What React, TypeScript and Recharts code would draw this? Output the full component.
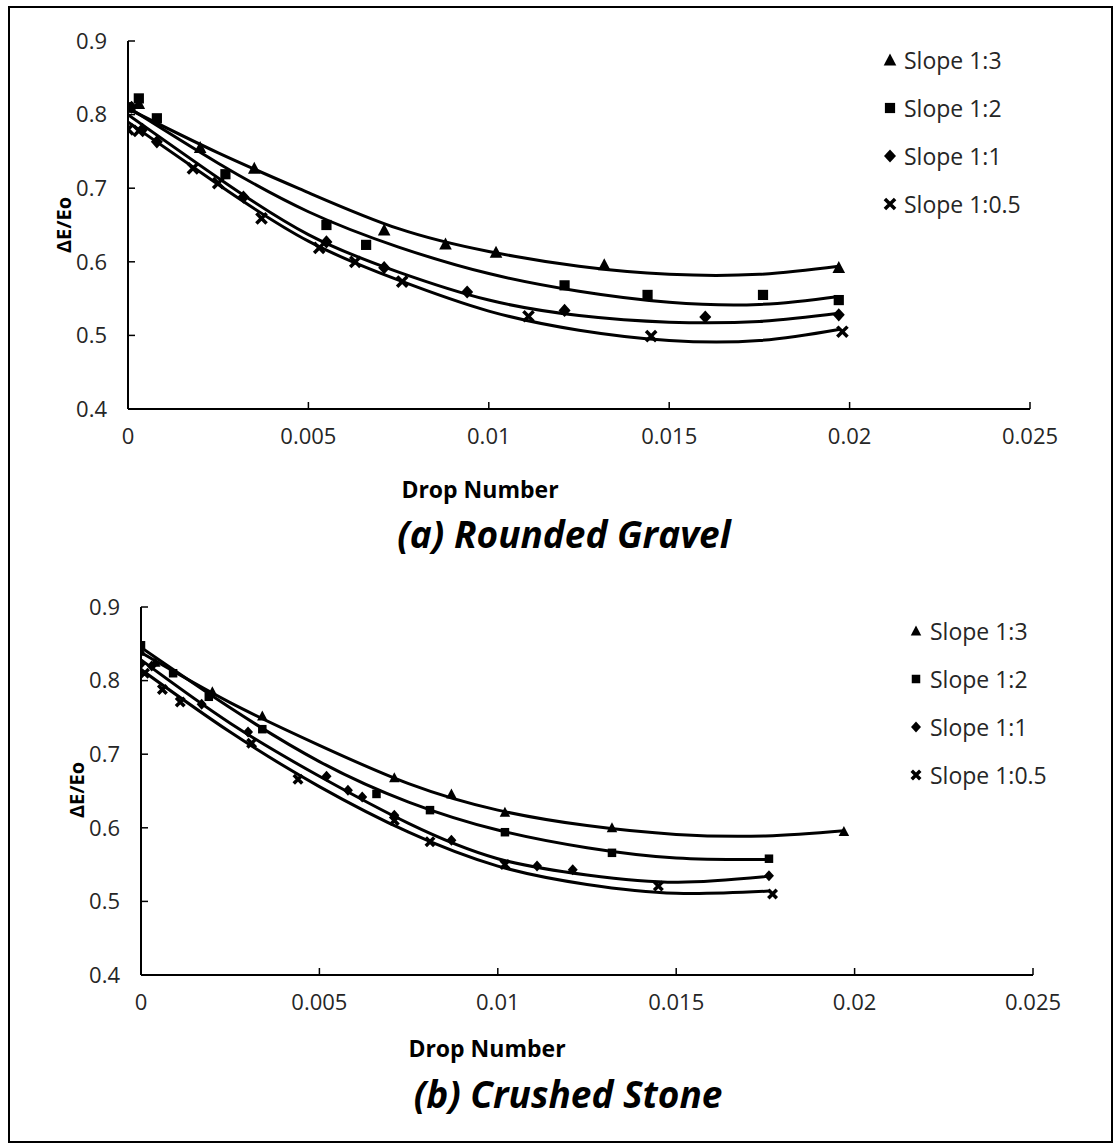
import { ComposedChart, Scatter, Line, XAxis, YAxis, Legend } from 'recharts'

const slopes = ['Slope 1:3', 'Slope 1:2', 'Slope 1:1', 'Slope 1:0.5']
const markers = ['triangle', 'square', 'diamond', 'x']
const xTicks = [0, 0.005, 0.01, 0.015, 0.02, 0.025]
const yTicks = [0.4, 0.5, 0.6, 0.7, 0.8, 0.9]

// (a) Rounded Gravel - measured points [drop number, dE/Eo]
const gravel13 = [[0, 0.81], [0.0003, 0.815], [0.002, 0.755], [0.0035, 0.727], [0.0071, 0.643], [0.0088, 0.624], [0.0102, 0.613], [0.0132, 0.596], [0.0197, 0.592]]
const gravel12 = [[0, 0.81], [0.0003, 0.822], [0.0008, 0.795], [0.0027, 0.719], [0.0055, 0.65], [0.0066, 0.623], [0.0121, 0.568], [0.0144, 0.555], [0.0176, 0.555], [0.0197, 0.548]]
const gravel11 = [[0.0001, 0.81], [0.0004, 0.78], [0.0008, 0.763], [0.0032, 0.688], [0.0055, 0.627], [0.0071, 0.592], [0.0094, 0.559], [0.0121, 0.534], [0.016, 0.525], [0.0197, 0.528]]
const gravel105 = [[0, 0.78], [0.0003, 0.778], [0.0018, 0.727], [0.0025, 0.707], [0.0037, 0.659], [0.0053, 0.619], [0.0063, 0.6], [0.0076, 0.573], [0.0111, 0.526], [0.0145, 0.499], [0.0198, 0.505]]

// trend lines
const gravelFitX = [0, 0.0025, 0.005, 0.0075, 0.01, 0.0125, 0.015, 0.0175, 0.0197]
const gravelFit13 = [0.808, 0.748, 0.694, 0.645, 0.614, 0.594, 0.583, 0.583, 0.594]
const gravelFit12 = [0.81, 0.734, 0.668, 0.62, 0.584, 0.56, 0.545, 0.542, 0.553]
const gravelFit11 = [0.8, 0.714, 0.637, 0.586, 0.548, 0.527, 0.518, 0.519, 0.53]
const gravelFit105 = [0.79, 0.705, 0.628, 0.575, 0.533, 0.507, 0.493, 0.493, 0.508]

// (b) Crushed Stone
const stone13 = [[0, 0.84], [0.0004, 0.825], [0.002, 0.785], [0.0034, 0.752], [0.0071, 0.668], [0.0087, 0.646], [0.0102, 0.621], [0.0132, 0.6], [0.0197, 0.595]]
const stone12 = [[0, 0.848], [0.0009, 0.81], [0.0019, 0.778], [0.0034, 0.734], [0.0066, 0.646], [0.0081, 0.624], [0.0102, 0.594], [0.0132, 0.566], [0.0176, 0.558]]
const stone11 = [[0, 0.823], [0.0003, 0.82], [0.0017, 0.768], [0.003, 0.73], [0.0052, 0.67], [0.0058, 0.651], [0.0062, 0.642], [0.0071, 0.617], [0.0087, 0.583], [0.0111, 0.548], [0.0121, 0.543], [0.0176, 0.535]]
const stone105 = [[0.0001, 0.81], [0.0006, 0.788], [0.0011, 0.771], [0.0031, 0.715], [0.0044, 0.666], [0.0071, 0.61], [0.0081, 0.581], [0.0102, 0.55], [0.0145, 0.521], [0.0177, 0.51]]

const stoneFitX13 = [0, 0.0025, 0.005, 0.0075, 0.01, 0.0125, 0.015, 0.0175, 0.0197]
const stoneFitX = [0, 0.0025, 0.005, 0.0075, 0.01, 0.0125, 0.015, 0.0176]
const stoneFit13 = [0.838, 0.77, 0.712, 0.66, 0.624, 0.603, 0.591, 0.589, 0.596]
const stoneFit12 = [0.845, 0.763, 0.69, 0.635, 0.597, 0.573, 0.559, 0.557]
const stoneFit11 = [0.828, 0.742, 0.67, 0.606, 0.558, 0.536, 0.526, 0.534]
const stoneFit105 = [0.815, 0.73, 0.656, 0.594, 0.548, 0.523, 0.511, 0.514]

const FONT = '"Open Sans", sans-serif'

const pts = (a: number[][]) => a.map(([x, y]) => ({ x, y }))
const fit = (xs: number[], ys: number[]) => xs.map((x, i) => ({ x, y: ys[i] }))

function Marker({ cx, cy, kind, s }: { cx: number; cy: number; kind: string; s: number }) {
  if (cx == null || cy == null) return null
  const h = s / 2
  switch (kind) {
    case 'triangle':
      return <polygon points={`${cx},${cy - s * 0.55} ${cx - h * 1.05},${cy + s * 0.45} ${cx + h * 1.05},${cy + s * 0.45}`} fill="#000" />
    case 'square':
      return <rect x={cx - h * 0.85} y={cy - h * 0.85} width={s * 0.85} height={s * 0.85} fill="#000" />
    case 'diamond':
      return <polygon points={`${cx},${cy - h * 1.1} ${cx + h},${cy} ${cx},${cy + h * 1.1} ${cx - h},${cy}`} fill="#000" />
    default: {
      const d = h * 0.85
      return (
        <path
          d={`M${cx - d},${cy - d}L${cx + d},${cy + d}M${cx + d},${cy - d}L${cx - d},${cy + d}`}
          stroke="#000"
          strokeWidth={3.5}
        />
      )
    }
  }
}

interface PanelProps {
  top: number
  height: number
  plot: { left: number; right: number; top: number; bottom: number }
  points: number[][][]
  curves: { x: number; y: number }[][]
  size: number
  legendSize: number
  legendPos: { left: number; top: number }
}

function Panel({ top, height, plot, points, curves, size, legendSize, legendPos }: PanelProps) {
  const yAxisWidth = 60
  const xAxisHeight = 40
  const margin = {
    top: plot.top - top,
    left: plot.left - yAxisWidth,
    right: 1120 - plot.right,
    bottom: top + height - plot.bottom - xAxisHeight,
  }
  const tick = { fill: '#262626', fontSize: 22, fontFamily: FONT }

  const renderLegend = () => (
    <div style={{ fontFamily: FONT, fontSize: 23, color: '#262626' }}>
      {slopes.map((name, i) => (
        <div key={name} style={{ display: 'flex', alignItems: 'center', height: 48 }}>
          <svg width={16} height={16} style={{ marginRight: 6 }}>
            <Marker cx={8} cy={8} kind={markers[i]} s={legendSize} />
          </svg>
          <span>{name}</span>
        </div>
      ))}
    </div>
  )

  return (
    <div style={{ position: 'absolute', left: 0, top }}>
      <ComposedChart width={1120} height={height} margin={margin}>
        <XAxis
          dataKey="x"
          type="number"
          domain={[0, 0.025]}
          ticks={xTicks}
          tickFormatter={(v: number) => String(v)}
          height={xAxisHeight}
          tickSize={-7}
          tickMargin={26}
          axisLine={{ stroke: '#000', strokeWidth: 2 }}
          tickLine={{ stroke: '#000', strokeWidth: 1.5 }}
          tick={tick}
          allowDataOverflow
        />
        <YAxis
          dataKey="y"
          type="number"
          domain={[0.4, 0.9]}
          ticks={yTicks}
          tickFormatter={(v: number) => v.toFixed(1)}
          width={yAxisWidth}
          tickSize={-7}
          tickMargin={28}
          axisLine={{ stroke: '#000', strokeWidth: 2 }}
          tickLine={{ stroke: '#000', strokeWidth: 1.5 }}
          tick={tick}
          allowDataOverflow
        />
        <Legend
          layout="vertical"
          align="center"
          verticalAlign="middle"
          content={renderLegend}
          wrapperStyle={{ left: legendPos.left, top: legendPos.top, width: 220, height: 200 }}
        />
        {curves.map((c, i) => (
          <Line
            key={'fit' + i}
            data={c}
            dataKey="y"
            type="natural"
            stroke="#000"
            strokeWidth={3}
            dot={false}
            activeDot={false}
            legendType="none"
            isAnimationActive={false}
          />
        ))}
        {points.map((p, i) => (
          <Scatter
            key={slopes[i]}
            name={slopes[i]}
            data={pts(p)}
            shape={(props: any) => <Marker cx={props.cx} cy={props.cy} kind={markers[i]} s={size} />}
            isAnimationActive={false}
          />
        ))}
      </ComposedChart>
    </div>
  )
}

function Label({ x, y, text, size, italic, rotate }: { x: number; y: number; text: string; size: number; italic?: boolean; rotate?: boolean }) {
  return (
    <div
      style={{
        position: 'absolute',
        left: x,
        top: y,
        transform: `translate(-50%, -50%)${rotate ? ' rotate(-90deg)' : ''}`,
        fontFamily: FONT,
        fontWeight: 700,
        fontStyle: italic ? 'italic' : 'normal',
        fontSize: size,
        color: '#000',
        whiteSpace: 'nowrap',
      }}
    >
      {text}
    </div>
  )
}

export default function App() {
  return (
    <div style={{ position: 'absolute', left: 0, top: 0, width: 1120, height: 1147, background: '#fff' }}>
      <div
        style={{
          position: 'absolute',
          left: 8,
          top: 6,
          width: 1105,
          height: 1137,
          border: '2px solid #000',
          boxSizing: 'border-box',
        }}
      />
      <Panel
        top={0}
        height={470}
        plot={{ left: 128, right: 1030, top: 41, bottom: 409 }}
        points={[gravel13, gravel12, gravel11, gravel105]}
        curves={[
          fit(gravelFitX, gravelFit13),
          fit(gravelFitX, gravelFit12),
          fit(gravelFitX, gravelFit11),
          fit(gravelFitX, gravelFit105),
        ]}
        size={12}
        legendSize={12}
        legendPos={{ left: 882, top: 36 }}
      />
      <Label x={63} y={225} text="ΔE/Eo" size={20} rotate />
      <Label x={480} y={489} text="Drop Number" size={23} />
      <Label x={564} y={533} text="(a) Rounded Gravel" size={37} italic />

      <Panel
        top={560}
        height={480}
        plot={{ left: 141, right: 1033, top: 607, bottom: 975 }}
        points={[stone13, stone12, stone11, stone105]}
        curves={[
          fit(stoneFitX13, stoneFit13),
          fit(stoneFitX, stoneFit12),
          fit(stoneFitX, stoneFit11),
          fit(stoneFitX, stoneFit105),
        ]}
        size={10}
        legendSize={10}
        legendPos={{ left: 908, top: 47 }}
      />
      <Label x={76} y={790} text="ΔE/Eo" size={20} rotate />
      <Label x={487} y={1048} text="Drop Number" size={23} />
      <Label x={568} y={1093} text="(b) Crushed Stone" size={37} italic />
    </div>
  )
}
